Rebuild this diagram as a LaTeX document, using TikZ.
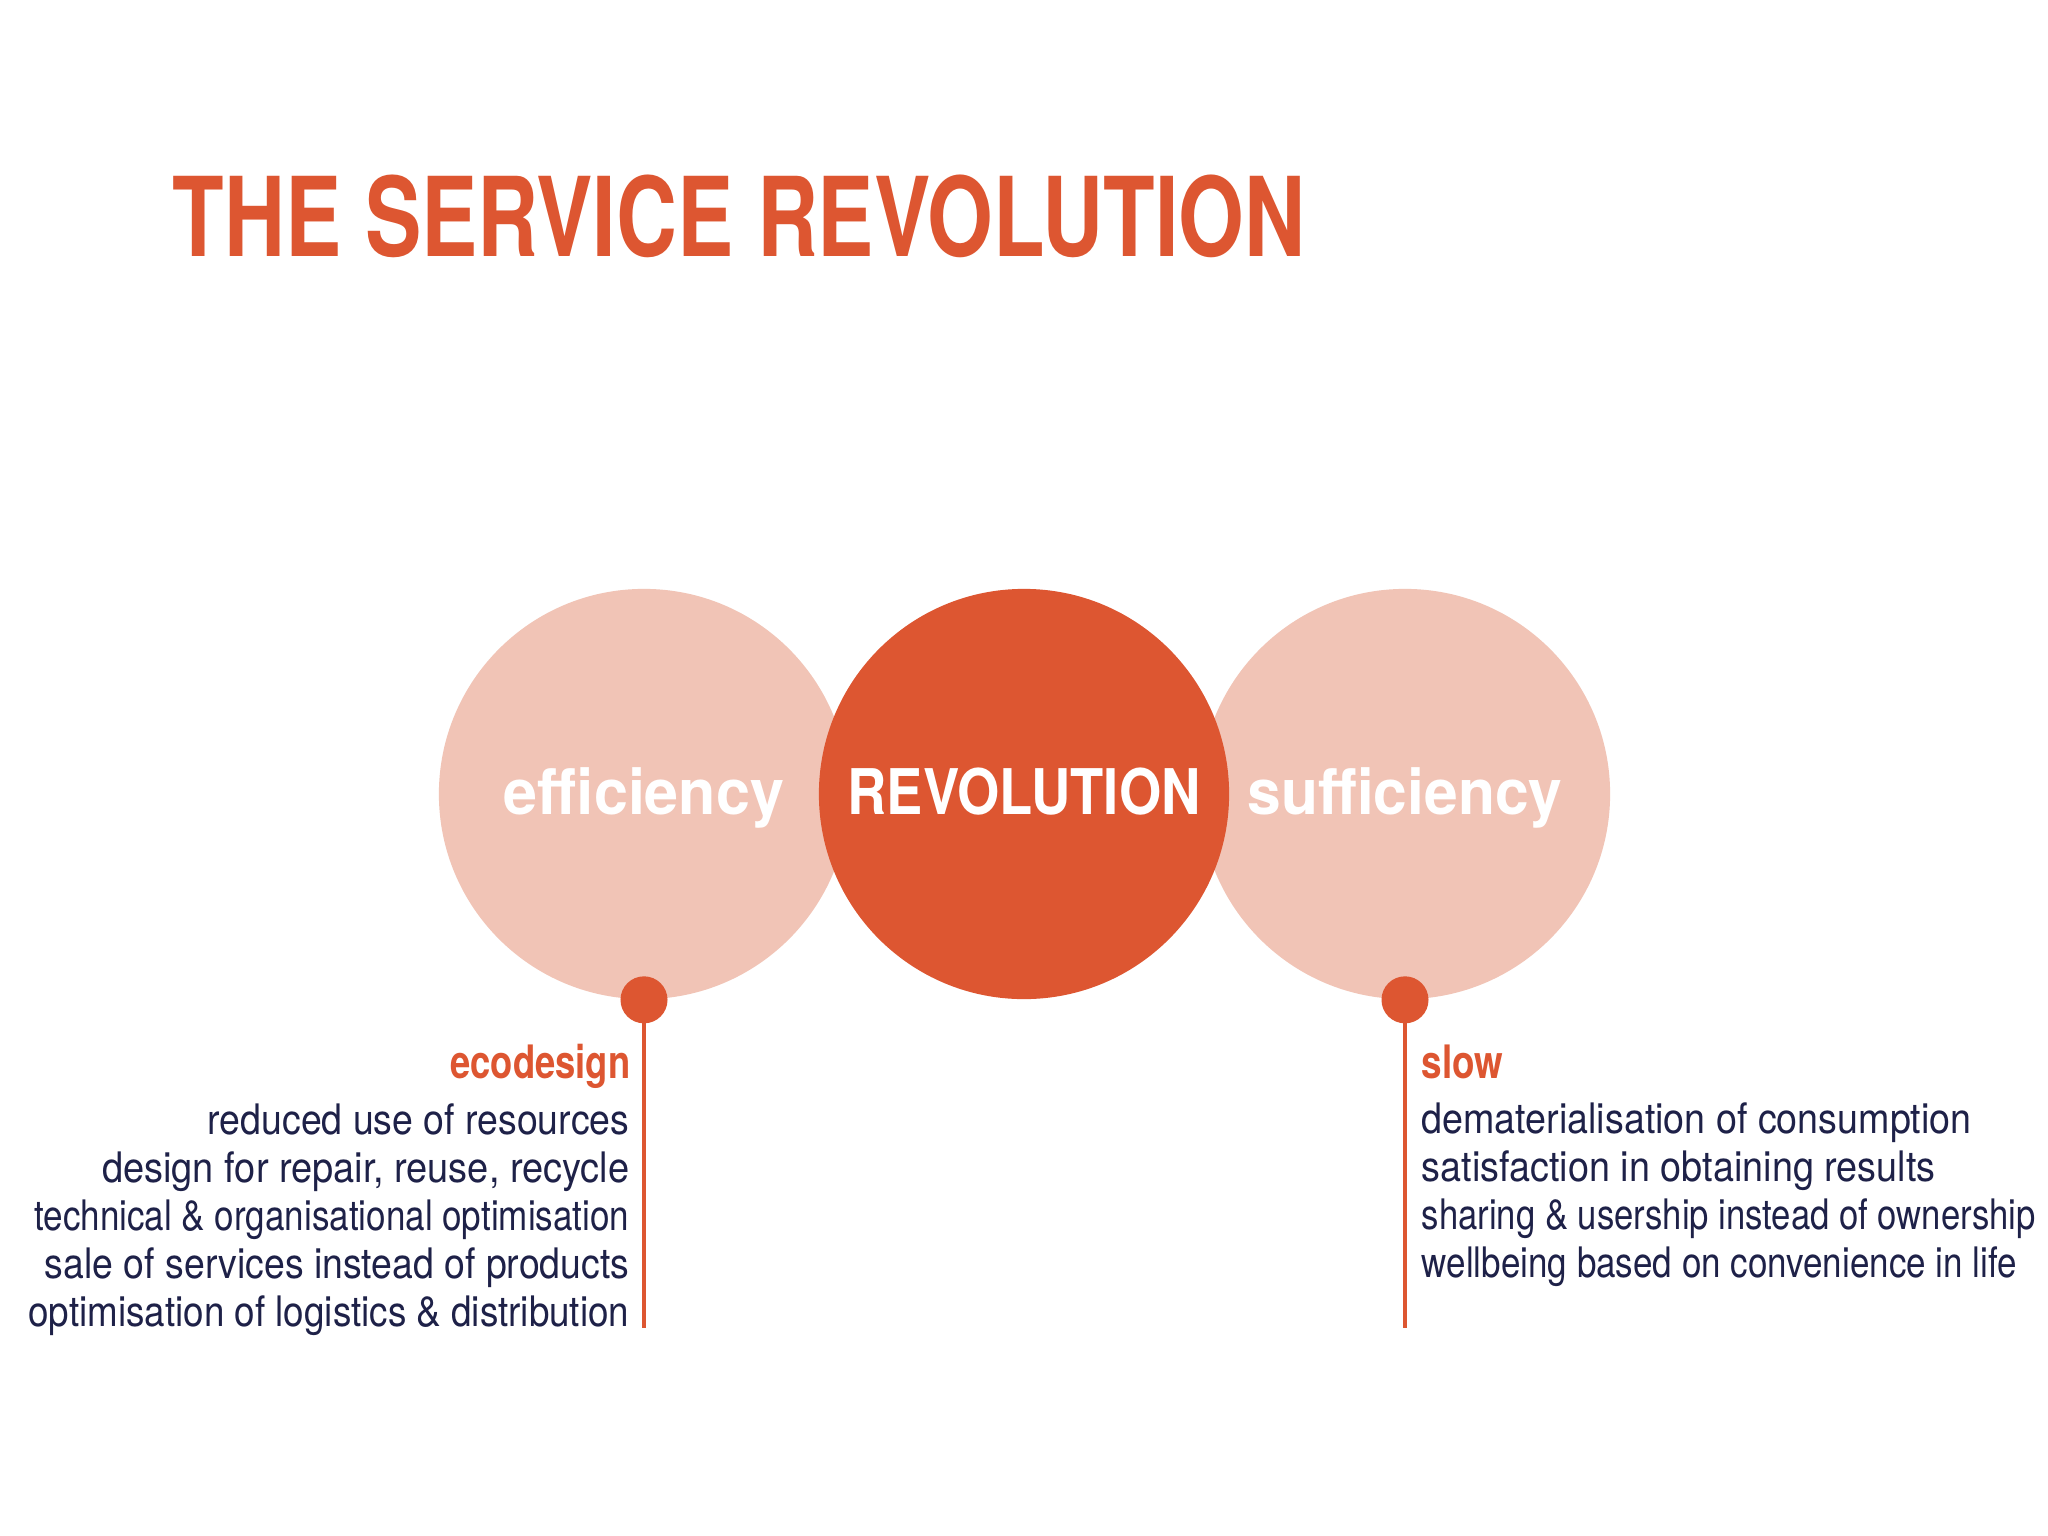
\documentclass[tikz,border=0pt]{standalone}
\usepackage{fontspec}
\setmainfont{TeX Gyre Heros}
\usepackage{graphicx}
\definecolor{accent}{HTML}{DD5631}
\definecolor{blush}{HTML}{F1C4B6}
\definecolor{navy}{HTML}{1E2148}
\newcommand{\sqz}[2]{\scalebox{#1}[1]{#2}}
\begin{document}
\begin{tikzpicture}[x=0.01cm,y=-0.01cm,
  bigcircle/.style={circle,inner sep=0pt,minimum size=4.1cm},
  dotnode/.style={circle,inner sep=0pt,minimum size=0.47cm,fill=accent},
  stem/.style={draw=accent,line width=1.2pt},
  bodytxt/.style={inner sep=0pt,text=navy,font=\fontsize{11.95pt}{13.66pt}\selectfont},
  headtxt/.style={inner sep=0pt,text=accent,font=\fontsize{13.1pt}{15pt}\selectfont\bfseries},
  circtxt/.style={inner sep=0pt,text=white,anchor=base,font=\fontsize{17.9pt}{20pt}\selectfont\bfseries}]
\useasboundingbox (0,0) rectangle (2048,1536);
\fill[white] (0,0) rectangle (2048,1536);

% title
\node[inner sep=0pt,anchor=base west,text=accent,font=\fontsize{31.3pt}{34pt}\selectfont\bfseries] (title) at (172,256) {\sqz{0.767}{THE SERVICE REVOLUTION}};

% circles
\node[bigcircle,fill=blush] (eff) at (644,794) {};
\node[bigcircle,fill=blush] (suf) at (1405,794) {};
\node[bigcircle,fill=accent] (rev) at (1024,794) {};

\node[circtxt] (efft) at (644,814) {\sqz{0.97}{efficiency}};
\node[circtxt] (revt) at (1024,814) {\sqz{0.863}{REVOLUTION}};
\node[circtxt] (suft) at (1405,814) {\sqz{0.962}{sufficiency}};

% stems and dots
\coordinate (endL) at (644,1328);
\coordinate (endR) at (1405,1328);
\draw[stem] (eff.south) -- (endL);
\draw[stem] (suf.south) -- (endR);
\node[dotnode] (dotL) at (eff.south) {};
\node[dotnode] (dotR) at (suf.south) {};

% left text
\node[headtxt,anchor=base east] (ecohead) at (631,1078) {\sqz{0.79}{ecodesign}};
\foreach \t/\s [count=\i] in {{reduced use of resources}/0.891,{design for repair, reuse, recycle}/0.904,{technical \& organisational optimisation}/0.834,{sale of services instead of products}/0.890,{optimisation of logistics \& distribution}/0.876}
  \node[bodytxt,anchor=base east] (L\i) at (630,1134+48*\i-48) {\sqz{\s}{\t}};

% right text
\node[headtxt,anchor=base west] (slowhead) at (1421,1078) {\sqz{0.80}{slow}};
\foreach \t/\s [count=\i] in {{dematerialisation of consumption}/0.896,{satisfaction in obtaining results}/0.899,{sharing \& usership instead of ownership}/0.825,{wellbeing based on convenience in life}/0.833}
  \node[bodytxt,anchor=base west] (R\i) at (1421,1133+48*\i-48) {\sqz{\s}{\t}};
\end{tikzpicture}
\end{document}
